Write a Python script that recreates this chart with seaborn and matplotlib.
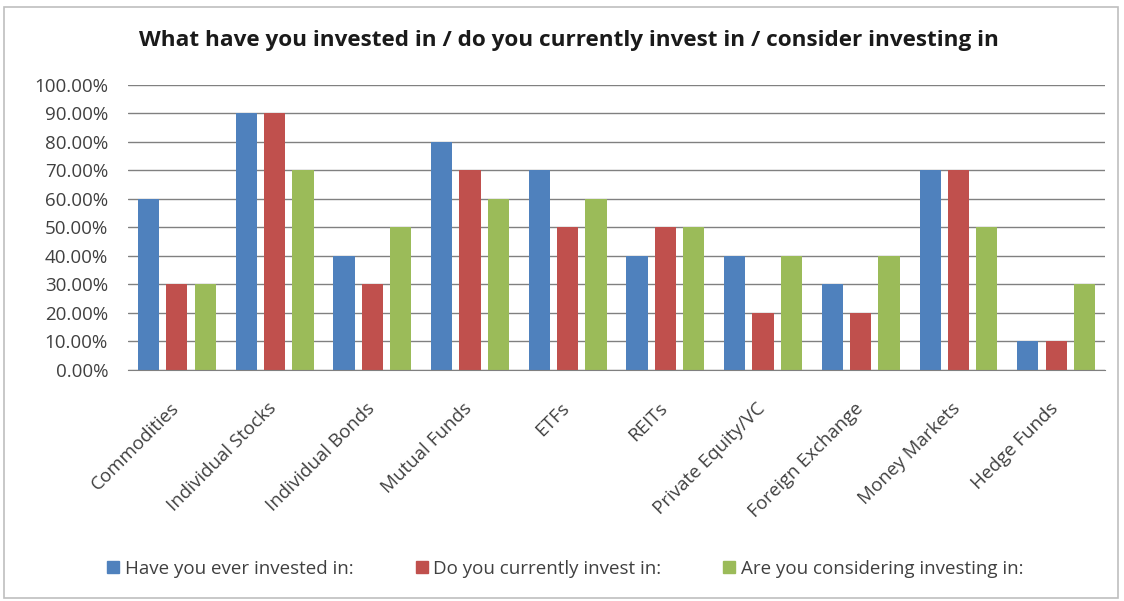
import numpy as np
import pandas as pd
import matplotlib
matplotlib.use('Agg')
import matplotlib.pyplot as plt
import matplotlib.patches as mpatches
import matplotlib.transforms as mtransforms
from matplotlib.ticker import PercentFormatter
import seaborn as sns

categories = ['Commodities', 'Individual Stocks', 'Individual Bonds', 'Mutual Funds', 'ETFs',
              'REITs', 'Private Equity/VC', 'Foreign Exchange', 'Money Markets', 'Hedge Funds']
ever_invested = [0.60, 0.90, 0.40, 0.80, 0.70, 0.40, 0.40, 0.30, 0.70, 0.10]
currently_invest = [0.30, 0.90, 0.30, 0.70, 0.50, 0.50, 0.20, 0.20, 0.70, 0.10]
considering = [0.30, 0.70, 0.50, 0.60, 0.60, 0.50, 0.40, 0.40, 0.50, 0.30]
series_names = ['Have you ever invested in:', 'Do you currently invest in:',
                'Are you considering investing in:']
colors = ['#4F81BD', '#C0504D', '#9BBB59']

rows = []
for name, vals in zip(series_names, [ever_invested, currently_invest, considering]):
    for c, v in zip(categories, vals):
        rows.append({'category': c, 'series': name, 'value': v})
df = pd.DataFrame(rows)

sns.set_style('white')
plt.rcParams['font.family'] = ['Open Sans', 'DejaVu Sans']

fig = plt.figure(figsize=(11.24, 6.01), dpi=100)
ax = fig.add_axes([0.1139, 0.3844, 0.8692, 0.4742])

sns.barplot(data=df, x='category', y='value', hue='series', palette=colors,
            width=0.87, gap=0.25, saturation=1, linewidth=0, ax=ax, legend=False)

ax.set_ylim(0, 1.0)
ax.set_yticks(np.arange(0, 1.01, 0.1))
ax.yaxis.set_major_formatter(PercentFormatter(1.0, decimals=2))
ax.set_axisbelow(True)
ax.grid(axis='y', color='#808080', linewidth=1)
for s in ['top', 'right', 'left']:
    ax.spines[s].set_visible(False)
ax.spines['bottom'].set_color('#808080')
ax.set_xlabel('')
ax.set_ylabel('')
ax.tick_params(axis='both', length=0, labelcolor='#404040')
ax.tick_params(axis='y', pad=14.4, labelsize=13.5)
ax.tick_params(axis='x', pad=21, labelsize=13.5)
shift = mtransforms.ScaledTranslation(-0.07, 0, fig.dpi_scale_trans)
for lbl in ax.get_xticklabels():
    lbl.set_rotation(45)
    lbl.set_ha('right')
    lbl.set_rotation_mode('anchor')
    lbl.set_transform(lbl.get_transform() + shift)

fig.text(0.506, 0.933, 'What have you invested in / do you currently invest in / consider investing in',
         ha='center', va='center', fontsize=16.2, fontweight='bold', color='#1a1a1a')

handles = [mpatches.Patch(color=c, label=n) for c, n in zip(colors, series_names)]
leg = fig.legend(handles=handles, loc='center', bbox_to_anchor=(0.503, 0.054), ncol=3,
                 frameon=False, fontsize=13.5, handlelength=0.64, handleheight=0.64,
                 handletextpad=0.3, columnspacing=3.3)
for t in leg.get_texts():
    t.set_color('#404040')

fig.patches.append(mpatches.Rectangle((0.004, 0.005), 0.991, 0.983, transform=fig.transFigure,
                                      fill=False, edgecolor='#bfbfbf', linewidth=1.2))

fig.savefig('out.png', dpi=100)
